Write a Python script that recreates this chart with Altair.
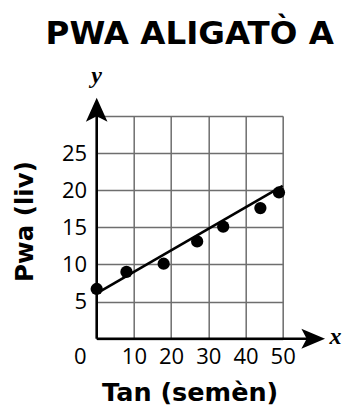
import altair as alt
import pandas as pd

# data
weeks = [0, 8, 18, 27, 34, 44, 49]
weights = [6.7, 9.0, 10.1, 13.1, 15.1, 17.6, 19.7]
fit_x = [0, 50]
fit_y = [6.1, 20.6]
x_ticks = [0, 10, 20, 30, 40, 50]
y_ticks = [0, 5, 10, 15, 20, 25, 30]

pts = pd.DataFrame({"x": weeks, "y": weights})
fit = pd.DataFrame({"x": fit_x, "y": fit_y})

xs = alt.Scale(domain=[0, 50], nice=False, zero=False)
ys = alt.Scale(domain=[0, 30], nice=False, zero=False)

LFONT = "Open Sans"
TFONT = "DejaVu Sans"

x_axis = alt.Axis(values=x_ticks, grid=True, domain=False, ticks=False,
                  labelFontSize=22, labelFont=LFONT, labelColor="black",
                  labelPadding=8, labelBaseline="top", labelOverlap=False,
                  labelFlush=False,
                  labelOffset={"condition": {"test": "datum.value == 0", "value": -17}, "value": 0},
                  gridColor="#6e6e6e", gridWidth=1.5, gridOpacity=1,
                  titleFont=TFONT, titleFontSize=25.5, titleFontWeight="bold",
                  titleColor="black", titlePadding=13)
y_axis = alt.Axis(values=y_ticks, grid=True, domain=False, ticks=False,
                  labelExpr="(datum.value == 0 || datum.value == 30) ? '' : datum.label",
                  labelFontSize=22, labelFont=LFONT, labelColor="black",
                  labelPadding=10, labelOverlap=False, labelFlush=False,
                  gridColor="#6e6e6e", gridWidth=1.5, gridOpacity=1,
                  titleFont=TFONT, titleFontSize=24.5, titleFontWeight="bold",
                  titleColor="black", titlePadding=24, titleY=105)


def X(field):
    return alt.X(field, type="quantitative", scale=xs, axis=x_axis, title="Tan (semèn)")


def Y(field):
    return alt.Y(field, type="quantitative", scale=ys, axis=y_axis, title="Pwa (liv)")


# axis lines with arrowheads
yaxis = pd.DataFrame({"x": [0], "y": [0], "y2": [30.5]})
xaxis = pd.DataFrame({"x": [0], "x2": [57.0], "y": [0]})
yline = alt.Chart(yaxis).mark_rule(color="black", strokeWidth=2.6).encode(
    x=X("x"), y=Y("y"), y2="y2:Q")
xline = alt.Chart(xaxis).mark_rule(color="black", strokeWidth=2.6).encode(
    x=X("x"), x2="x2:Q", y=Y("y"))

up_head = pd.DataFrame({"x": [0], "y": [30.85]})
right_head = pd.DataFrame({"x": [58.2], "y": [0]})
uph = alt.Chart(up_head).mark_point(
    shape="M0,-1L0.9,1L0,0.55L-0.9,1Z", size=576, filled=True, color="black", opacity=1
).encode(x=X("x"), y=Y("y"))
rh = alt.Chart(right_head).mark_point(
    shape="M1,0L-1,0.85L-0.55,0L-1,-0.85Z", size=560, filled=True, color="black", opacity=1
).encode(x=X("x"), y=Y("y"))

labels = pd.DataFrame({"x": [0, 64.2], "y": [34.45, -0.75], "t": ["y", "x"]})
axis_names = alt.Chart(labels).mark_text(
    font="Liberation Serif", fontStyle="italic", fontWeight="bold", fontSize=24,
    baseline="alphabetic", align="center", color="black"
).encode(x=X("x"), y=Y("y"), text="t:N")

line = alt.Chart(fit).mark_line(color="black", strokeWidth=2.6).encode(x=X("x"), y=Y("y"))
dots = alt.Chart(pts).mark_circle(size=150, color="black", opacity=1).encode(x=X("x"), y=Y("y"))

chart = alt.layer(yline, xline, uph, rh, line, dots, axis_names).properties(
    width=186, height=222.7,
    title=alt.TitleParams("PWA ALIGATÒ A", font=TFONT, fontSize=32.5, fontWeight="bold",
                          color="black", anchor="middle", offset=13),
    autosize=alt.AutoSizeParams(type="none"),
    padding={"left": 88.7, "top": 108, "right": 59.3, "bottom": 70.3},
).configure_view(stroke=None).configure(background="white")

chart.save("out.html", embed_options={"renderer": "svg", "actions": False})
